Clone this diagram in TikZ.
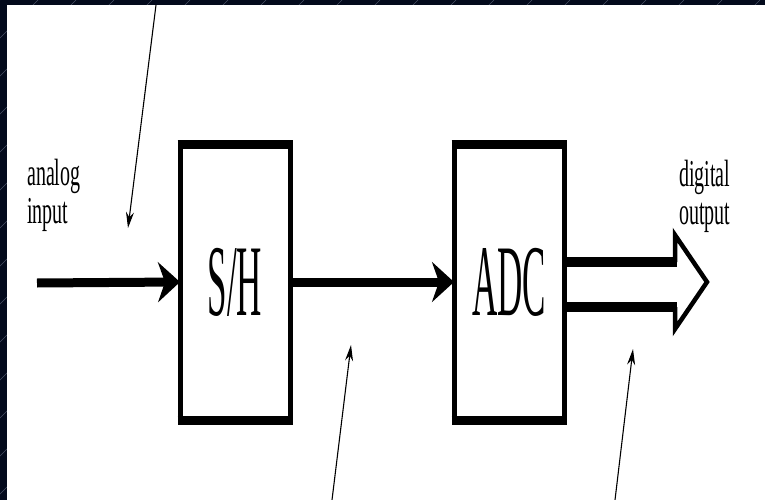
\documentclass[tikz,border=0pt]{standalone}
\usepackage{fontspec}
\setmainfont{Liberation Serif}
\usepackage{graphicx}
\usetikzlibrary{arrows.meta}
\usetikzlibrary{positioning}

\definecolor{slidebg}{RGB}{3,10,28}
\definecolor{slideline}{RGB}{72,80,100}

\newcommand{\boxlabel}[1]{\scalebox{1}[2.9]{\fontsize{35}{40}\selectfont #1}}
\newcommand{\sidelabel}[2]{\scalebox{1}[1.9]{\fontsize{20}{20}\selectfont\begin{tabular}{@{}l@{}}#1\\#2\end{tabular}}}

\begin{document}
\begin{tikzpicture}[x=1pt,y=-1pt,
blk/.style={draw,line width=5pt,minimum width=110pt,minimum height=276pt,inner sep=0pt,outer sep=0pt},
bar/.style={line width=9pt},
flow/.style={line width=9pt,-{Stealth[length=22pt,width=40pt,inset=7pt]}},
bus/.style={line width=10pt},
hint/.style={line width=1.1pt,-{Stealth[length=16pt,width=8pt]}},
lbl/.style={inner sep=0pt,anchor=west}]
\useasboundingbox (0,0) rectangle (765,500);
\fill[slidebg] (0,0) rectangle (765,500);
\begin{scope}
\clip (0,0) rectangle (765,500);
\foreach \i in {-500,-462,...,800} \draw[slideline,line width=0.6pt] (\i,500) -- (\i+500,0);
\end{scope}
\fill[white] (7,5) rectangle (765,500);

\node[blk] (sh) at (235,282) {\boxlabel{S/H}};
\node[blk,right=164pt of sh] (adc) {\boxlabel{ADC}};
\foreach \b in {sh,adc} {
\draw[bar] ([xshift=-2.5pt]\b.north west) -- ([xshift=2.5pt]\b.north east);
\draw[bar] ([xshift=-2.5pt]\b.south west) -- ([xshift=2.5pt]\b.south east);
}

\coordinate (in) at (37,283);
\draw[flow] (in) -- (sh.west);
\draw[flow] (sh.east) -- (adc.west);

\draw[bus] ([yshift=20pt]adc.east) -- ++(113,0);
\draw[bus] ([yshift=-25pt]adc.east) -- ++(113,0);
\coordinate (tip) at (707,282);
\draw[line width=4.5pt] (675,262) -- (675,235) -- (tip) -- (675,329) -- (675,307);

\node[lbl] (ain) at (27,197) {\sidelabel{analog}{input}};
\node[lbl] (dout) at (679,198) {\sidelabel{digital}{output}};

\coordinate (n1a) at (156,5);
\coordinate (n1b) at (128,228);
\coordinate (n2a) at (332,500);
\coordinate (n2b) at (351,345);
\coordinate (n3a) at (615,500);
\coordinate (n3b) at (633,349);
\draw[hint] (n1a) -- (n1b);
\draw[hint] (n2a) -- (n2b);
\draw[hint] (n3a) -- (n3b);
\end{tikzpicture}
\end{document}
